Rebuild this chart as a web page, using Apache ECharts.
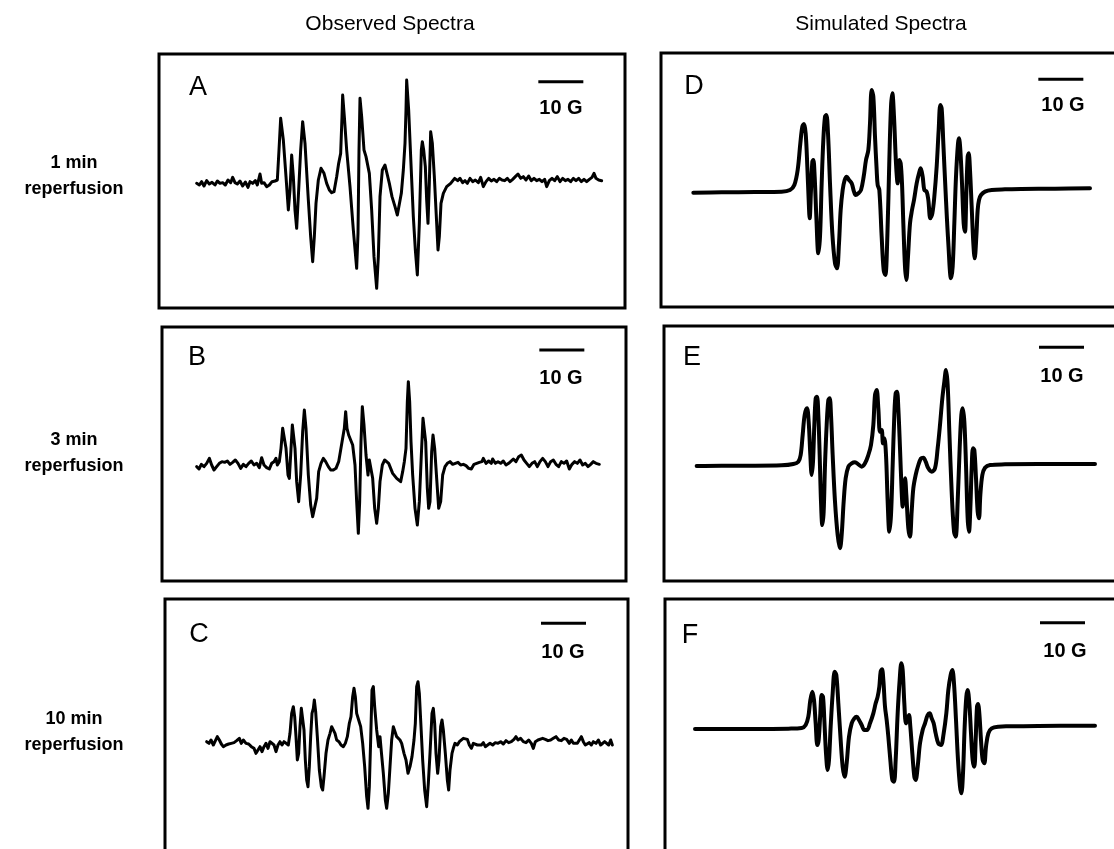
<!DOCTYPE html>
<html>
<head>
<meta charset="utf-8">
<script src="https://cdn.jsdelivr.net/npm/echarts@6/dist/echarts.min.js"></script>
<style>
html,body{margin:0;padding:0;background:#fff;}
#chart{width:1114px;height:849px;}
</style>
</head>
<body>
<div id="chart"></div>
<script>
// ---- Data: [field (arb. units, 135 units = 10 G), signal amplitude (arb. units, baseline = 0)] ----
const obsA = [[110,-5],[118,-10],[125,0],[132,-13],[140,3],[148,-7],[156,-2],[165,-10],[172,2],[180,-5],[188,-3],[196,-10],[204,5],[212,-3],[218,13],[225,-3],[232,-7],[240,2],[248,-13],[256,-1],[264,-17],[270,0],[278,-5],[286,3],[292,-10],[300,23],[305,-5],[312,-3],[320,-15],[328,-10],[336,0],[345,2],[352,5],
[357,95],[362,190],[370,125],[378,15],[385,-85],[390,-25],[395,80],[400,15],[405,-85],[410,-140],[416,-25],[422,95],[428,180],[435,115],[445,-55],[452,-165],[458,-240],[463,-165],[468,-65],[475,5],[483,40],[492,25],[500,-5],[508,-25],[515,-33],[522,-30],[530,15],[536,55],[542,85],[546,195],[548,260],[553,195],[560,95],[570,-15],[580,-145],[590,-260],[594,-155],[597,95],[600,250],[605,195],[612,95],[618,75],[623,70],[628,25],[635,-85],[642,-225],[650,-320],[655,-225],[660,-45],[667,35],[675,50],[680,45],[688,-5],[696,-45],[705,-75],[712,-100],[718,-95],[724,-35],[730,35],[735,115],[738,215],[740,305],[746,215],[752,75],[760,-105],[766,-205],[772,-280],[778,-125],[784,95],[787,120],[791,95],[796,45],[800,-55],[804,-125],[808,-5],[812,150],[817,115],[823,15],[828,-85],[834,-205],[838,-165],[843,-65],[850,-35],[860,-15],[872,-5],[884,10],
[893,3],[900,10],[908,-3],[915,3],[922,-5],[930,10],[938,0],[946,5],[955,-3],[962,13],[970,-15],[978,0],[986,10],[994,2],[1002,7],[1010,0],[1018,10],[1026,5],[1034,3],[1042,10],[1050,0],[1058,7],[1066,15],[1074,23],[1082,10],[1090,15],[1098,5],[1106,17],[1114,3],[1122,10],[1130,3],[1138,7],[1146,0],[1154,7],[1160,-15],[1168,3],[1176,10],[1184,3],[1192,15],[1200,0],[1208,10],[1216,3],[1224,7],[1232,0],[1240,10],[1248,3],[1256,10],[1264,0],[1272,7],[1280,0],[1288,7],[1296,13],[1302,25],[1308,10],[1316,5],[1325,3]];

const simD = [[115,-3],[200,-2],[300,-1],[380,0],[405,5],[418,20],[428,65],[436,145],[442,195],[447,203],[452,175],[457,75],[461,-25],[464,-80],[468,5],[472,90],[475,95],[479,45],[484,-75],[490,-185],[495,-135],[500,25],[505,155],[510,225],[514,230],[519,175],[525,25],[532,-125],[540,-215],[546,-230],[552,-155],[557,-55],[563,5],[569,35],[575,45],[582,35],[590,25],[597,0],[602,-10],[610,-5],[618,5],[626,45],[633,95],[640,125],[645,205],[650,305],[655,285],[660,165],[665,65],[668,20],[673,5],[680,-135],[686,-235],[691,-250],[697,-135],[703,95],[708,255],[712,295],[717,225],[723,85],[728,25],[733,95],[737,85],[741,25],[745,-95],[750,-225],[754,-265],[759,-195],[765,-95],[771,-55],[777,-25],[785,25],[792,55],[797,70],[803,45],[808,5],[815,0],[820,-25],[826,-80],[832,-65],[838,-15],[845,75],[851,185],[856,260],[860,250],[865,145],[872,-5],[880,-155],[888,-260],[893,-225],[898,-95],[903,45],[909,145],[912,160],[916,125],[921,25],[926,-95],[930,-120],[934,-5],[938,105],[941,115],[945,65],[950,-45],[955,-155],[959,-200],[964,-135],[968,-55],[972,-25],[978,-10],[990,0],[1010,5],[1050,7],[1100,8],[1200,9],[1305,10]];

const obsB = [[110,-5],[117,-12],[124,2],[132,-5],[140,5],[148,20],[155,0],[162,-15],[170,-5],[178,5],[186,10],[194,8],[202,12],[210,2],[218,8],[226,15],[234,5],[242,-10],[250,2],[258,-5],[266,5],[274,12],[282,0],[290,5],[298,-8],[305,22],[312,0],[320,-8],[328,-12],[335,5],[342,10],[348,20],[352,0],[358,10],
[363,50],[368,110],[373,105],[378,50],[384,-30],[388,-40],[392,30],[397,120],[400,125],[405,50],[410,-50],[416,-110],[422,-30],[428,100],[433,165],[438,110],[445,-30],[452,-120],[458,-155],[464,-160],[470,-100],[476,-20],[483,5],[490,20],[497,10],[505,-5],[512,-15],[520,-15],[528,-10],[536,10],[542,45],[548,50],[553,110],[557,160],[561,110],[566,90],[572,85],[578,60],[585,0],[590,-110],[595,-205],[599,-110],[603,70],[607,175],[612,120],[618,30],[624,-30],[628,15],[633,10],[638,-40],[644,-130],[650,-175],[655,-130],[660,-50],[667,0],[674,15],[680,20],[686,5],[692,-10],[698,-25],[704,-30],[710,-40],[716,-40],[722,-50],[728,-20],[733,10],[738,50],[742,190],[745,250],[749,190],[753,70],[758,-30],[765,-130],[772,-180],[778,-110],[784,30],[789,140],[792,145],[797,70],[802,-70],[806,-130],[810,-110],[815,40],[819,90],[824,50],[830,-40],[836,-130],[842,-110],[848,-30],[855,-5],[862,5],
[870,10],[878,2],[886,5],[894,8],[902,0],[910,2],[918,-2],[926,-10],[934,-12],[942,2],[950,5],[958,8],[966,10],[970,20],[978,5],[986,12],[994,5],[998,18],[1006,5],[1014,10],[1022,5],[1030,12],[1038,0],[1046,5],[1052,10],[1060,18],[1068,10],[1076,25],[1084,30],[1092,15],[1100,5],[1108,-5],[1116,5],[1124,10],[1132,-5],[1140,10],[1148,20],[1156,10],[1164,-5],[1172,10],[1180,15],[1188,2],[1196,-5],[1204,10],[1212,5],[1220,12],[1228,-12],[1236,2],[1244,10],[1252,5],[1260,15],[1268,0],[1276,5],[1284,-5],[1292,2],[1300,10],[1308,5],[1318,2]];

const simE = [[125,-3],[200,-2],[300,-2],[380,-1],[415,3],[430,10],[437,30],[443,90],[449,150],[456,170],[461,130],[466,30],[470,-30],[474,10],[478,120],[482,200],[486,205],[490,150],[494,30],[498,-110],[502,-180],[506,-140],[510,0],[515,120],[520,195],[524,200],[528,150],[533,30],[540,-110],[548,-210],[555,-250],[560,-210],[566,-110],[572,-40],[580,-5],[590,5],[600,8],[610,2],[620,-5],[630,5],[640,30],[648,60],[655,120],[660,210],[665,225],[670,170],[675,100],[680,105],[684,65],[688,80],[693,30],[698,-110],[703,-200],[708,-150],[713,0],[718,150],[722,215],[726,220],[730,170],[735,50],[740,-80],[743,-125],[746,-70],[750,-40],[754,-90],[760,-190],[765,-215],[770,-140],[775,-70],[782,-30],[790,0],[798,20],[805,22],[812,10],[820,-10],[830,-20],[840,-10],[848,50],[855,120],[862,200],[868,250],[873,285],[878,240],[883,100],[890,-80],[897,-200],[902,-215],[908,-110],[914,50],[919,150],[923,170],[928,130],[933,0],[938,-160],[942,-200],[946,-130],[950,-10],[954,50],[958,45],[963,-40],[968,-140],[972,-160],[976,-90],[982,-30],[990,-8],[1005,0],[1050,2],[1150,3],[1320,3]];

const obsC = [[140,5],[147,0],[153,10],[160,-5],[166,-10],[172,20],[178,10],[184,-2],[190,-10],[198,-5],[206,-2],[214,0],[222,2],[230,8],[238,15],[244,0],[250,10],[258,0],[266,-2],[274,-10],[282,-15],[288,-30],[294,-20],[300,-10],[306,-25],[312,-10],[318,0],[324,-15],[330,5],[336,0],[342,-5],[348,-25],[354,-5],[360,5],[366,-5],[372,5],[378,0],[385,-5],
[390,30],[395,90],[400,110],[404,80],[408,20],[412,-50],[416,-30],[420,50],[424,105],[428,100],[432,40],[436,-50],[440,-110],[444,-130],[448,-70],[452,20],[456,90],[460,105],[463,130],[467,95],[472,20],[478,-80],[484,-130],[488,-140],[492,-100],[498,-30],[504,10],[510,30],[515,50],[520,45],[525,30],[530,10],[537,5],[543,-5],[550,-10],[556,0],[562,20],[568,60],[573,80],[578,140],[582,165],[586,140],[590,90],[596,70],[602,50],[608,0],[614,-70],[620,-160],[624,-195],[628,-130],[632,10],[636,160],[640,170],[644,110],[650,40],[656,-10],[660,20],[664,-25],[670,-90],[676,-170],[680,-195],[685,-150],[690,-70],[695,10],[700,50],[705,50],[710,20],[715,25],[720,10],[725,0],[732,-30],[738,-50],[744,-90],[750,-70],[756,-40],[762,10],[766,60],[770,170],[774,185],[778,150],[782,70],[788,-50],[794,-140],[800,-190],[805,-120],[810,-30],[816,90],[820,105],[824,60],[828,-30],[833,-90],[837,-50],[842,50],[846,70],[850,40],[856,-30],[862,-110],[866,-140],[870,-80],[876,-30],[880,-15],[885,0],
[892,-5],[898,5],[904,0],[910,15],[916,10],[922,12],[928,-5],[934,-15],[940,0],[946,2],[952,-5],[958,-10],[964,-5],[970,2],[976,-10],[982,-5],[990,0],[998,-5],[1006,2],[1014,0],[1022,5],[1030,-2],[1038,8],[1046,2],[1054,5],[1062,12],[1068,20],[1074,10],[1082,15],[1090,5],[1098,2],[1106,10],[1114,0],[1120,-15],[1126,5],[1134,10],[1140,5],[1148,15],[1156,12],[1164,8],[1172,10],[1180,15],[1188,20],[1196,10],[1204,8],[1212,15],[1220,12],[1228,0],[1234,10],[1240,0],[1246,-5],[1252,0],[1258,5],[1264,20],[1270,5],[1276,-5],[1282,0],[1288,2],[1294,-5],[1300,5],[1308,0],[1315,10],[1322,-5],[1328,-2],[1334,5],[1340,0],[1346,-5],[1352,10],[1357,-5]];

const simF = [[120,-2],[200,-2],[300,-2],[400,-1],[440,1],[452,10],[460,35],[466,85],[472,110],[477,85],[482,15],[487,-50],[491,-35],[496,45],[500,100],[504,95],[508,25],[513,-75],[518,-125],[522,-95],[527,5],[533,105],[539,170],[544,160],[550,75],[557,-35],[563,-115],[569,-145],[575,-105],[582,-25],[590,15],[598,30],[605,35],[612,25],[620,10],[628,-5],[636,-5],[645,15],[655,45],[662,75],[668,95],[673,125],[677,170],[681,177],[685,145],[690,65],[695,25],[700,-25],[706,-95],[712,-155],[717,-160],[722,-95],[728,45],[734,145],[739,195],[743,175],[748,75],[753,15],[758,30],[762,40],[766,5],[772,-75],[778,-145],[782,-155],[788,-115],[795,-45],[803,-5],[810,15],[818,40],[824,45],[830,30],[836,15],[842,-15],[850,-45],[858,-50],[866,-15],[874,45],[880,115],[887,160],[892,175],[897,135],[903,25],[909,-95],[915,-175],[919,-195],[924,-135],[929,5],[934,95],[938,115],[943,75],[948,-15],[953,-95],[958,-115],[962,-35],[966,65],[969,73],[973,45],[978,-35],[983,-95],[988,-105],[993,-55],[1000,-15],[1010,0],[1030,5],[1060,6],[1150,7],[1320,8]];

const panelLetters = ['A','D','B','E','C','F'];
const rowLabels = [['1 min','reperfusion'],['3 min','reperfusion'],['10 min','reperfusion']];
const columnTitles = ['Observed Spectra','Simulated Spectra'];
const scaleBarLabel = '10 G';
const scaleBarField = 135; // 10 G in field units

// ---- Layout (pixels): frame = full panel box (may run past the page edge); grid = visible part ----
const W = 1114, H = 849;
const panels = [
  {data:obsA, sim:false, frame:[159,54,466,254], x0:-3, yTop:383, bar:[1135,300], letterPos:[198,88], barText:[561,108]},
  {data:simD, sim:true,  frame:[661,53,470,254], x0:18, yTop:416, bar:[1150,337], letterPos:[694,87], barText:[1063,105]},
  {data:obsB, sim:false, frame:[162,327,464,254], x0:6, yTop:414, bar:[1138,345], letterPos:[197,358], barText:[561,378]},
  {data:simE, sim:true,  frame:[664,326,470,255], x0:27, yTop:417, bar:[1152,353], letterPos:[692,358], barText:[1062,376]},
  {data:obsC, sim:false, frame:[165,599,463,300], x0:15, yTop:433, bar:[1143,360], letterPos:[199,635], barText:[563,652]},
  {data:simF, sim:true,  frame:[665,599,470,300], x0:30, yTop:388, bar:[1155,317], letterPos:[690,636], barText:[1065,651]}
];
const UNITS_PER_PX = 3;

const FONT = '"Liberation Sans", Arial, Helvetica, sans-serif';
const grids = [], xAxes = [], yAxes = [], series = [], graphics = [];

panels.forEach((p, i) => {
  const [fl, ft, fw, fh] = p.frame;
  const gw = Math.min(fw, W - fl);
  const gh = Math.min(fh, H - ft);
  grids.push({left:fl, top:ft, width:gw, height:gh, show:false, containLabel:false});
  xAxes.push({type:'value', gridIndex:i, min:p.x0, max:p.x0 + gw * UNITS_PER_PX, show:false});
  yAxes.push({type:'value', gridIndex:i, min:p.yTop - gh * UNITS_PER_PX, max:p.yTop, show:false});
  series.push({type:'line', xAxisIndex:i, yAxisIndex:i, data:p.data, showSymbol:false,
    smooth: p.sim ? 0.35 : false,
    lineStyle:{color:'#000', width: p.sim ? 4 : 3, join:'round', cap:'round'},
    animation:false, silent:true, clip:true});
  series.push({type:'line', xAxisIndex:i, yAxisIndex:i,
    data:[[p.bar[0], p.bar[1]], [p.bar[0] + scaleBarField, p.bar[1]]],
    showSymbol:false, lineStyle:{color:'#000', width:3}, animation:false, silent:true});
  graphics.push({type:'rect', shape:{x:fl, y:ft, width:fw, height:fh},
    style:{fill:null, stroke:'#000', lineWidth:3}, silent:true});
  graphics.push({type:'text', x:p.letterPos[0], y:p.letterPos[1],
    style:{text:panelLetters[i], font:'normal 27px ' + FONT, fill:'#000', align:'center', verticalAlign:'middle'}});
  graphics.push({type:'text', x:p.barText[0], y:p.barText[1],
    style:{text:scaleBarLabel, font:'bold 20px ' + FONT, fill:'#000', align:'center', verticalAlign:'middle'}});
});

graphics.push({type:'text', x:390, y:24, style:{text:columnTitles[0], font:'normal 21px ' + FONT, fill:'#000', align:'center', verticalAlign:'middle'}});
graphics.push({type:'text', x:881, y:24, style:{text:columnTitles[1], font:'normal 21px ' + FONT, fill:'#000', align:'center', verticalAlign:'middle'}});
const rowY = [[163,189],[440,466],[719,745]];
rowLabels.forEach((lines, r) => {
  lines.forEach((t, k) => {
    graphics.push({type:'text', x:74, y:rowY[r][k], style:{text:t, font:'bold 18px ' + FONT, fill:'#000', align:'center', verticalAlign:'middle'}});
  });
});

const chart = echarts.init(document.getElementById('chart'), null, {renderer:'canvas'});
chart.setOption({
  animation:false,
  backgroundColor:'#fff',
  grid:grids, xAxis:xAxes, yAxis:yAxes, series:series, graphic:graphics
});
</script>
</body>
</html>
